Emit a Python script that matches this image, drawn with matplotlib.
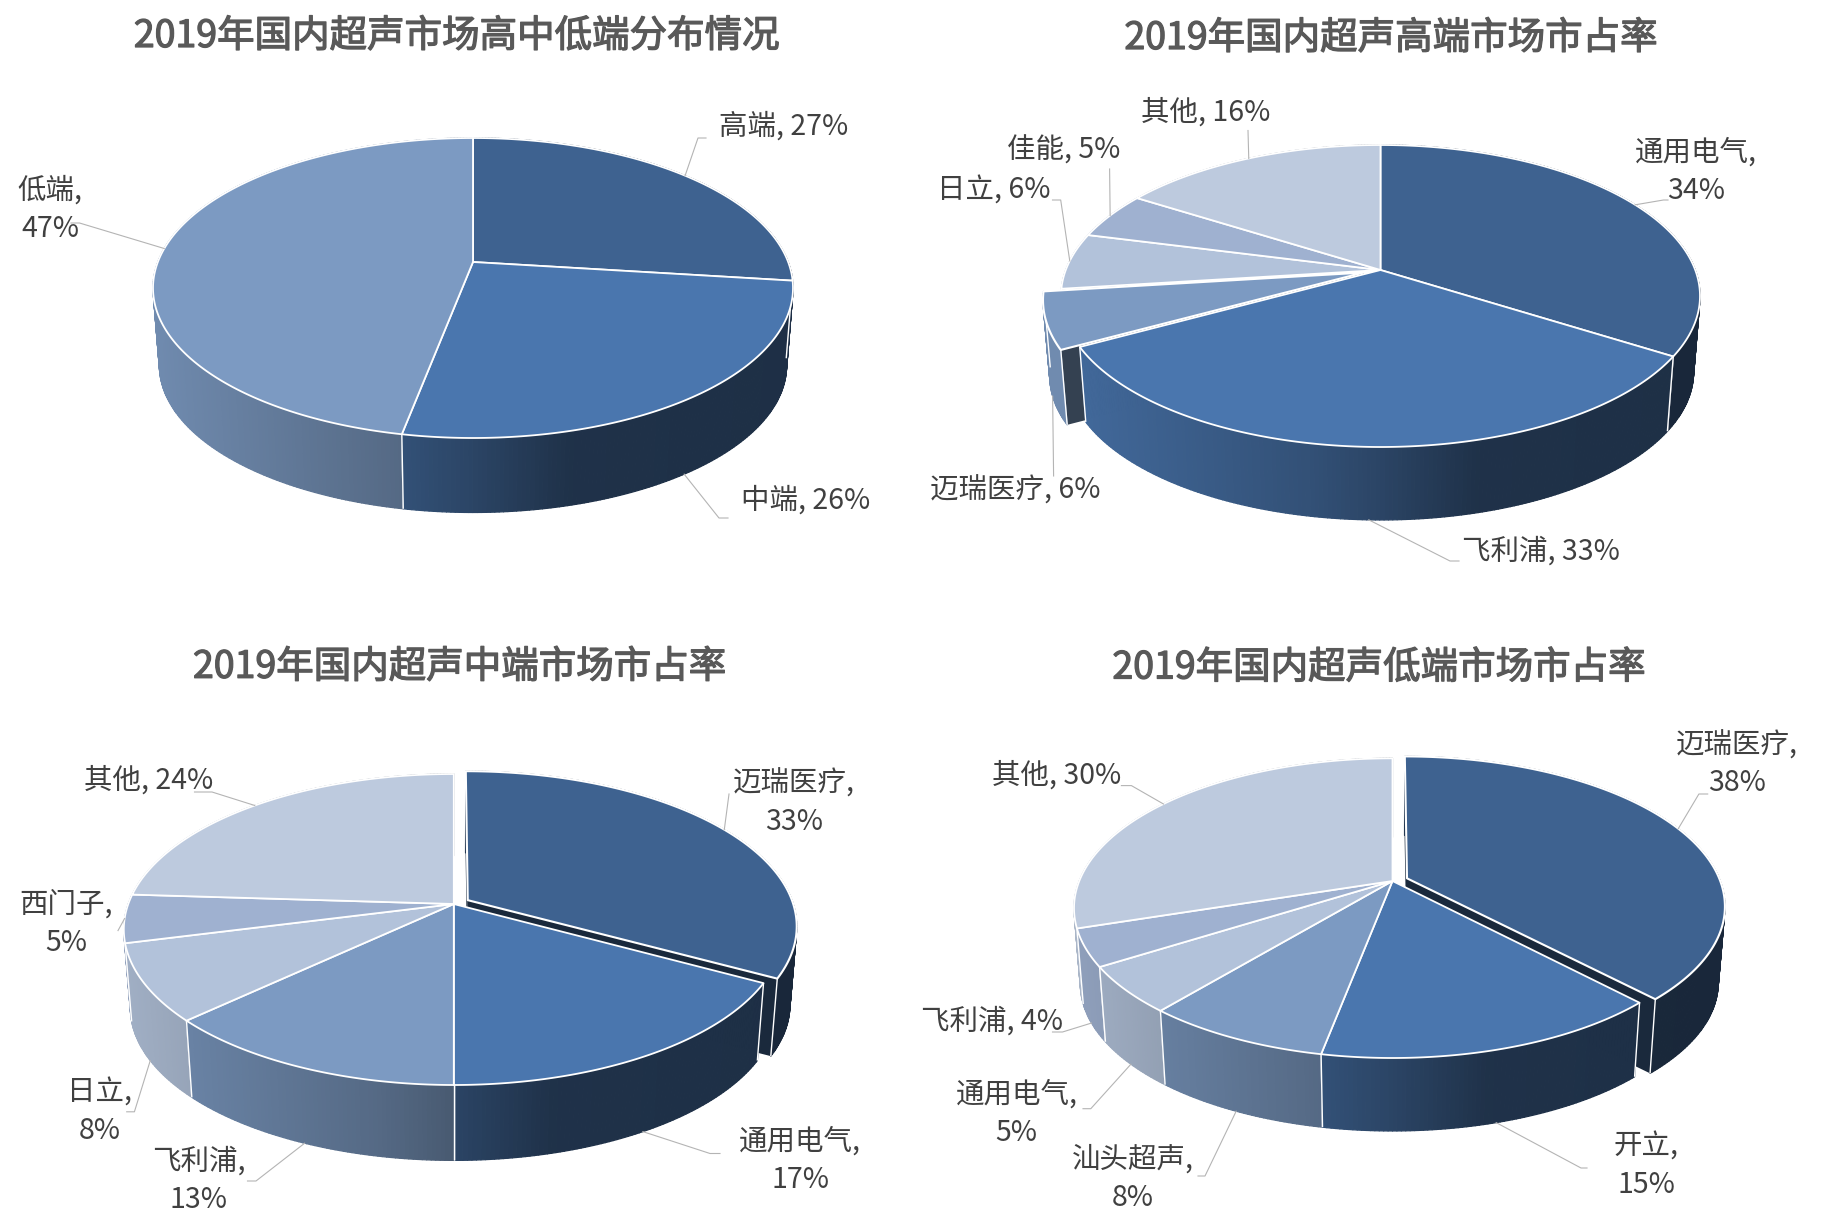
import numpy as np
import matplotlib
matplotlib.use("Agg")
import matplotlib.pyplot as plt
import matplotlib.patheffects as pe
from matplotlib.collections import PolyCollection
from matplotlib.colors import to_rgb
from matplotlib.patches import Polygon

plt.rcParams['font.family'] = ['Noto Sans CJK SC', 'DejaVu Sans']

# ---------- data ----------
titles = ['2019年国内超声市场高中低端分布情况', '2019年国内超声高端市场市占率',
          '2019年国内超声中端市场市占率', '2019年国内超声低端市场市占率']
tier_names = ['高端', '中端', '低端']
tier_values = [27, 26, 47]
high_names = ['通用电气', '飞利浦', '迈瑞医疗', '日立', '佳能', '其他']
high_values = [34, 33, 6, 6, 5, 16]
mid_names = ['迈瑞医疗', '通用电气', '飞利浦', '日立', '西门子', '其他']
mid_values = [33, 17, 13, 8, 5, 24]
low_names = ['迈瑞医疗', '开立', '汕头超声', '通用电气', '飞利浦', '其他']
low_values = [38, 15, 8, 5, 4, 30]

# ---------- style / layout ----------
palette = ['#3e6290', '#4a76ae', '#7c9ac2', '#b2c2da', '#9fb1d0', '#bdcade']
TITLE_C, LABEL_C, LEADER_C = '#595959', '#404040', '#b4b4b4'
SHADE_X = [-1.0, -0.22, 0.0, 0.3, 1.0]
SHADE_F = [0.90, 0.68, 0.58, 0.42, 0.40]
SCALE = 0.98
W, H = 1848, 1222

charts = [
    dict(names=tier_names, values=tier_values, explode={}, cx=473, cy=262, top=124, bot=176, rx=320, d=78,
         title_xy=(456.7, 36.5),
         text=[(784, 126.5, 0), (806, 501, 0), (50, 210, 1)],
         elbows=[[(698, 138), (706, 138)], [(719, 518), (728, 518)], [(79.5, 223), (71, 223)]]),
    dict(names=high_names, values=high_values, explode={2: 0.055}, cx=1380.5, cy=270, top=125, bot=177, rx=319.5, d=76.5,
         title_xy=(1391, 38.5),
         text=[(1696, 172, 1), (1541, 552, 0), (1015, 491, 0), (993.5, 191, 0), (1063.7, 151, 0), (1205.7, 113, 0)],
         elbows=[[(1663.5, 200), (1668, 200)], [(1450, 561), (1459, 561)], [(1053.6, 476)],
                 [(1060.7, 200), (1052.5, 200)], [(1109.6, 169)], [(1248, 130.5)]]),
    dict(names=mid_names, values=mid_values, explode={0: 0.05}, cx=453.8, cy=904, top=130, bot=181, rx=330, d=79,
         title_xy=(459.6, 667.3),
         text=[(794, 802.6, 1), (800, 1161, 1), (198.6, 1180.6, 1), (100, 1112, 1), (66, 923.6, 1), (148.5, 780.7, 0)],
         elbows=[[(729, 794)], [(710, 1153.5), (720, 1153.5)], [(256, 1181), (247.5, 1181)],
                 [(134.4, 1111.8), (126.7, 1111.8)], [(118, 930.6)], [(212, 792), (194.5, 792)]]),
    dict(names=low_names, values=low_values, explode={0: 0.05}, cx=1392.5, cy=881, top=122.7, bot=177, rx=318.5, d=76.5,
         title_xy=(1379, 668),
         text=[(1737, 764.4, 1), (1646, 1165.7, 1), (1133, 1178.6, 1), (1016.5, 1114, 1), (992, 1022, 0), (1057, 775.7, 0)],
         elbows=[[(1698.9, 794), (1707.7, 794)], [(1581, 1168), (1587, 1168)], [(1205, 1176), (1198, 1176)],
                 [(1090.8, 1108.7), (1083, 1108.7)], [(1062.5, 1032), (1052.5, 1032)], [(1131.4, 785.6), (1121.4, 785.6)]]),
]


def make_projector(c):
    k = (c['bot'] - c['top']) / (c['bot'] + c['top'])
    b = c['top'] * (1 + k)
    a = c['rx'] * np.sqrt(1 - k * k)

    def project(t, r=1.0, e=0.0, em=0.0, lower=False):
        X = r * np.sin(t) + e * np.sin(em)
        Y = r * np.cos(t) + e * np.cos(em)
        w = 1 + k * Y
        px, py = a * X / w, -b * Y / w
        if lower:
            px, py = SCALE * px, SCALE * py + c['d']
        return c['cx'] + px, c['cy'] + py
    return project


def slice_top(project, t0, t1, e, em):
    t = np.linspace(t0, t1, max(3, int(np.degrees(t1 - t0) * 2)))
    x, y = project(t, 1.0, e, em)
    vx, vy = project(0.0, 0.0, e, em)
    return np.r_[[[vx, vy]], np.c_[x, y]]


def draw_slice_side(ax, c, project, t0, t1, e, em, colour):
    base = np.array(to_rgb(colour))
    n = max(3, int(np.degrees(t1 - t0) * 1.5))
    t = np.linspace(t0, t1, n)
    xt, yt = project(t, 1.0, e, em)
    xb, yb = project(t, 1.0, e, em, lower=True)
    quads, cols = [], []
    for i in range(n - 1):
        quads.append([(xt[i], yt[i]), (xt[i + 1], yt[i + 1]), (xb[i + 1], yb[i + 1]), (xb[i], yb[i])])
        rel = ((xt[i] + xt[i + 1]) / 2 - c['cx']) / c['rx']
        cols.append(base * np.interp(rel, SHADE_X, SHADE_F))
    ax.add_collection(PolyCollection(quads, facecolors=cols, edgecolors=cols, linewidths=0.9))


def draw_cut_wall(ax, project, t, e, em, colour):
    p0 = project(0.0, 0.0, e, em)
    p1 = project(t, 1.0, e, em)
    p2 = project(t, 1.0, e, em, lower=True)
    p3 = project(0.0, 0.0, e, em, lower=True)
    ax.add_patch(Polygon([p0, p1, p2, p3], closed=True, facecolor=np.array(to_rgb(colour)) * 0.42,
                         edgecolor='none'))


def draw_pie(ax, c):
    project = make_projector(c)
    vals = np.array(c['values'], dtype=float)
    edges = np.r_[0, np.cumsum(vals)] / vals.sum() * 2 * np.pi
    n = len(vals)
    # paint the sides from the back of the disc to the front
    order = sorted(range(n), key=lambda i: -np.cos((edges[i] + edges[i + 1]) / 2))
    for i in order:
        t0, t1 = edges[i], edges[i + 1]
        e = c['explode'].get(i, 0.0)
        em = (t0 + t1) / 2
        colour = palette[i]
        if e:
            for tw in (t0, t1):
                draw_cut_wall(ax, project, tw, e, em, colour)
        draw_slice_side(ax, c, project, t0, t1, e, em, colour)
        for tw in (t0, t1):
            if np.cos(tw) < 0.1:
                xa, ya = project(tw, 1.0, e, em)
                xb, yb = project(tw, 1.0, e, em, lower=True)
                ax.plot([xa, xb], [ya, yb], color='white', lw=1.0, solid_capstyle='butt', zorder=1)
        if e:
            ax.add_patch(Polygon(slice_top(project, t0, t1, e, em), closed=True, facecolor=colour,
                                 edgecolor='white', linewidth=1.5, joinstyle='round'))
    for i in range(n):
        if i in c['explode']:
            continue
        ax.add_patch(Polygon(slice_top(project, edges[i], edges[i + 1], 0.0, 0.0), closed=True,
                             facecolor=palette[i], edgecolor='white', linewidth=1.3, joinstyle='round'))
    # labels and leader lines
    for i in range(n):
        mid = (edges[i] + edges[i + 1]) / 2
        e = c['explode'].get(i, 0.0)
        lower = np.cos(mid) < -0.2
        anchor = project(mid, 1.0, e, mid, lower=lower)
        pts = [anchor] + c['elbows'][i]
        ax.plot([p[0] for p in pts], [p[1] for p in pts], color=LEADER_C, lw=0.8, zorder=2, clip_on=False)
        tx, ty, wrap = c['text'][i]
        sep = ',\n' if wrap else ', '
        ax.text(tx, ty, f"{c['names'][i]}{sep}{int(vals[i])}%", ha='center', va='center', ma='center',
                fontsize=20.5, color=LABEL_C, linespacing=1.34, clip_on=False)


fig = plt.figure(figsize=(W / 100, H / 100), dpi=100, facecolor='white')
for idx, c in enumerate(charts):
    col, row = idx % 2, idx // 2
    ax = fig.add_axes([col * 0.5, 1 - (row + 1) * 0.5, 0.5, 0.5])
    x0, y0 = col * W / 2, row * H / 2
    ax.set_xlim(x0, x0 + W / 2)
    ax.set_ylim(y0 + H / 2, y0)
    ax.axis('off')
    draw_pie(ax, c)
    ax.text(c['title_xy'][0], c['title_xy'][1], titles[idx], ha='center', va='center', fontsize=27,
            color=TITLE_C, clip_on=False,
            path_effects=[pe.withStroke(linewidth=0.9, foreground=TITLE_C)])

fig.savefig('out.png', dpi=100, facecolor='white')
